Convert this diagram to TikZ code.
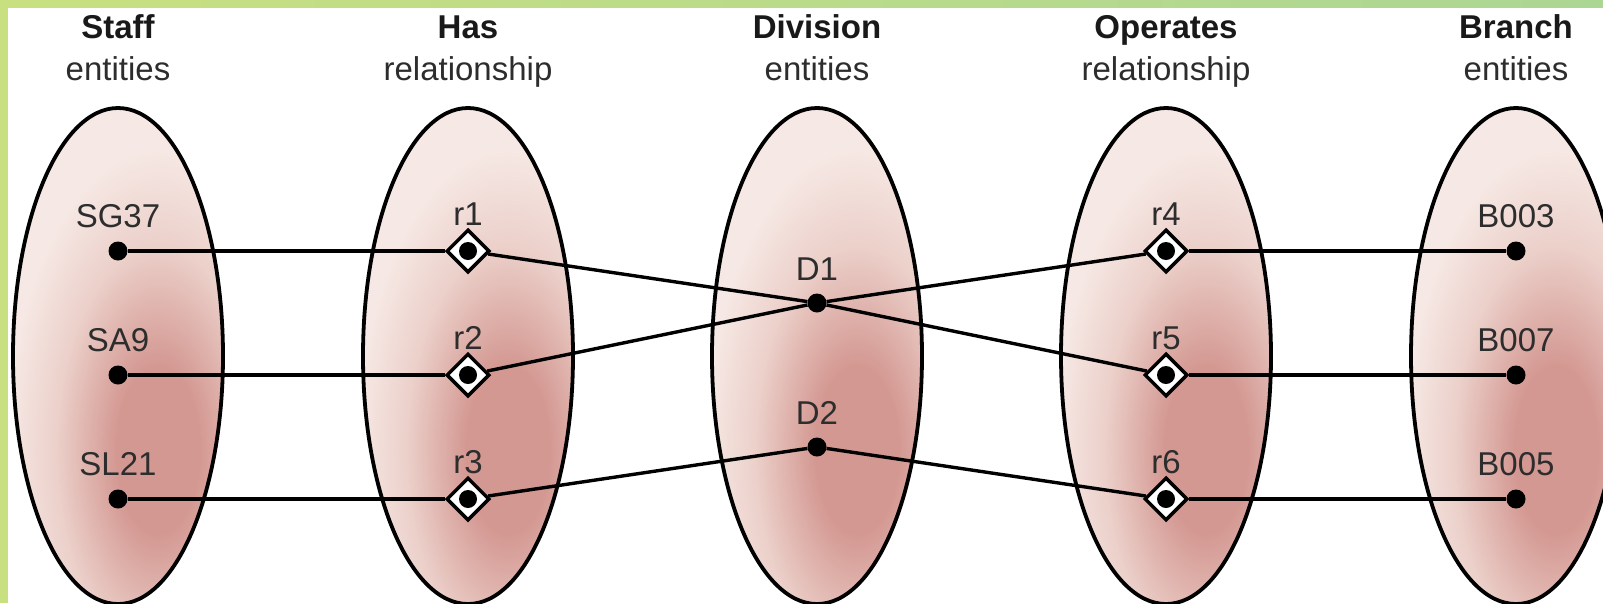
\documentclass[tikz,border=0pt]{standalone}
\usepackage{fontspec}
\setmainfont{Liberation Sans}
\usetikzlibrary{shapes.geometric}
\definecolor{barA}{RGB}{200,224,128}
\definecolor{barB}{RGB}{172,214,148}
\definecolor{pinkL}{RGB}{246,232,228}
\definecolor{pinkM}{RGB}{236,208,202}
\definecolor{pinkD}{RGB}{212,152,146}
\definecolor{txt}{RGB}{45,45,45}
\pgfdeclareradialshading{bagshade}{\pgfpoint{0bp}{0bp}}{color(0bp)=(pinkD); color(7bp)=(pinkD); color(17bp)=(pinkM); color(25bp)=(pinkL); color(50bp)=(pinkL)}
\begin{document}
\begin{tikzpicture}[x=1pt,y=-1pt,
  ttl/.style={anchor=base, inner sep=0, font=\fontsize{33}{40}\selectfont\bfseries, text=black!90},
  sub/.style={anchor=base, inner sep=0, font=\fontsize{33}{40}\selectfont, text=txt},
  lbl/.style={anchor=base, inner sep=0, font=\fontsize{33}{40}\selectfont, text=txt},
  ent/.style={circle, fill=black, inner sep=0, minimum size=19pt},
  rel/.style={diamond, draw=black, line width=3.5pt, fill=white, inner sep=0, minimum size=43pt},
  reldot/.style={circle, fill=black, inner sep=0, minimum size=18pt},
  link/.style={line width=3.4pt},
  bag/.style={line width=3.8pt}]
\useasboundingbox (0,0) rectangle (1603,603);
\fill[white] (0,0) rectangle (1603,603);
% frame bars
\fill[barA] (0,0) rectangle (8,603);
\shade[left color=barA, right color=barB] (0,0) rectangle (1603,7);
% sets
\foreach \cx in {118,468,817,1166,1516} {
  \begin{scope}
    \clip (\cx,356) ellipse (105 and 248);
    \fill[pinkL] (\cx-110,100) rectangle (\cx+110,610);
    \shade[shading=bagshade] (\cx+40,450) ellipse (150 and 300);
  \end{scope}
  \draw[bag] (\cx,356) ellipse (105 and 248);
}
% titles
\node[ttl] (t1) at (118,38) {Staff};
\node[sub] (s1) at (118,80) {entities};
\node[ttl] (t2) at (468,38) {Has};
\node[sub] (s2) at (468,80) {relationship};
\node[ttl] (t3) at (817,38) {Division};
\node[sub] (s3) at (817,80) {entities};
\node[ttl] (t4) at (1166,38) {Operates};
\node[sub] (s4) at (1166,80) {relationship};
\node[ttl] (t5) at (1516,38) {Branch};
\node[sub] (s5) at (1516,80) {entities};
% staff
\node[ent] (sg37) at (118,251) {};
\node[ent] (sa9) at (118,375) {};
\node[ent] (sl21) at (118,499) {};
\node[lbl] (lsg37) at (118,227) {SG37};
\node[lbl] (lsa9) at (118,351) {SA9};
\node[lbl] (lsl21) at (118,475) {SL21};
% has
\node[rel] (r1) at (468,251) {};
\node[rel] (r2) at (468,375) {};
\node[rel] (r3) at (468,499) {};
\node[lbl] (lr1) at (468,225) {r1};
\node[lbl] (lr2) at (468,349) {r2};
\node[lbl] (lr3) at (468,473) {r3};
% division
\node[ent] (d1) at (817,303) {};
\node[ent] (d2) at (817,447) {};
\node[lbl] (ld1) at (817,280) {D1};
\node[lbl] (ld2) at (817,424) {D2};
% operates
\node[rel] (r4) at (1166,251) {};
\node[rel] (r5) at (1166,375) {};
\node[rel] (r6) at (1166,499) {};
\node[lbl] (lr4) at (1166,225) {r4};
\node[lbl] (lr5) at (1166,349) {r5};
\node[lbl] (lr6) at (1166,473) {r6};
% dots inside the diamonds
\foreach \r in {r1,r2,r3,r4,r5,r6} { \node[reldot] (\r dot) at (\r) {}; }
% branch
\node[ent] (b003) at (1516,251) {};
\node[ent] (b007) at (1516,375) {};
\node[ent] (b005) at (1516,499) {};
\node[lbl] (lb003) at (1516,227) {B003};
\node[lbl] (lb007) at (1516,351) {B007};
\node[lbl] (lb005) at (1516,475) {B005};
% links
\draw[link] (sg37) -- (r1);
\draw[link] (sa9) -- (r2);
\draw[link] (sl21) -- (r3);
\draw[link] (r1) -- (d1);
\draw[link] (r2) -- (d1);
\draw[link] (r3) -- (d2);
\draw[link] (d1) -- (r4);
\draw[link] (d1) -- (r5);
\draw[link] (d2) -- (r6);
\draw[link] (r4) -- (b003);
\draw[link] (r5) -- (b007);
\draw[link] (r6) -- (b005);
\end{tikzpicture}
\end{document}
